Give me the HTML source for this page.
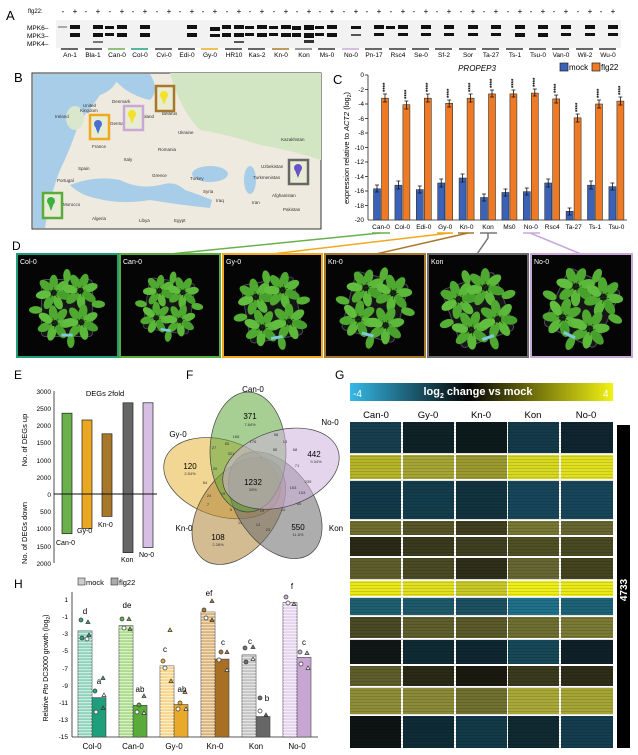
<!DOCTYPE html>
<html><head><meta charset="utf-8"><style>
html,body{margin:0;padding:0;background:#fff}
svg{display:block;font-family:"Liberation Sans",Arial,sans-serif}
</style></head><body>
<svg width="638" height="755" viewBox="0 0 638 755" xmlns="http://www.w3.org/2000/svg">
<defs>
<pattern id="st" width="4" height="3" patternUnits="userSpaceOnUse"><rect width="4" height="1.2" fill="#fff" opacity="0.55"/></pattern>
<pattern id="hl" width="4" height="3" patternUnits="userSpaceOnUse"><rect width="4" height="1" fill="#000" opacity="0.12"/></pattern>
<linearGradient id="cb" x1="0" x2="1" y1="0" y2="0"><stop offset="0" stop-color="#35b8e6"/><stop offset="0.45" stop-color="#050505"/><stop offset="1" stop-color="#f2f213"/></linearGradient>
<g id="ros">
<ellipse cx="0" cy="-11" rx="4.5" ry="8" fill="#4fa830"/>
<ellipse cx="0" cy="-11" rx="4.5" ry="8" fill="#5cb83a" transform="rotate(52)"/>
<ellipse cx="0" cy="-11" rx="4.5" ry="8" fill="#48a02c" transform="rotate(104)"/>
<ellipse cx="0" cy="-11" rx="4.5" ry="8" fill="#5cb83a" transform="rotate(156)"/>
<ellipse cx="0" cy="-11" rx="4.5" ry="8" fill="#4fa830" transform="rotate(208)"/>
<ellipse cx="0" cy="-11" rx="4.5" ry="8" fill="#62be3e" transform="rotate(260)"/>
<ellipse cx="0" cy="-11" rx="4.5" ry="8" fill="#4fa830" transform="rotate(312)"/>
<path d="M0 0L0 -6M0 0L5 -3M0 0L-5 -3M0 0L4 5M0 0L-4 5" stroke="#1c3a12" stroke-width="0.6"/>
</g>
<g id="plant">
<rect x="-27" y="-30" width="54" height="60" rx="4" fill="#161616" stroke="#4a4a5a" stroke-width="1"/>
<use href="#ros" transform="translate(-14,-16)"/>
<use href="#ros" transform="translate(14,-18) rotate(20)"/>
<use href="#ros" transform="translate(-13,16) rotate(40)"/>
<use href="#ros" transform="translate(15,15) rotate(10)"/>
<ellipse cx="0" cy="-34" rx="4" ry="7" fill="#55b035"/>
<ellipse cx="-33" cy="2" rx="7" ry="4" fill="#55b035"/>
<ellipse cx="33" cy="-4" rx="7" ry="4" fill="#55b035"/>
<ellipse cx="4" cy="35" rx="4" ry="7" fill="#4fa830"/>
<rect x="-6" y="27" width="12" height="3" fill="#7fc8d8"/>
</g>
</defs>

<!-- PANEL A -->
<text x="6" y="20" font-size="13">A</text>
<text x="28" y="13" font-size="6">flg22:</text>
<text x="27" y="30" font-size="6.5">MPK6–</text>
<text x="27" y="38" font-size="6.5">MPK3–</text>
<text x="27" y="46" font-size="6.5">MPK4–</text>
<g font-size="8" text-anchor="middle">
<text x="63" y="14">-</text><text x="75" y="14">+</text>
<text x="86" y="14">-</text><text x="98" y="14">+</text>
<text x="110" y="14">-</text><text x="122" y="14">+</text>
<text x="133" y="14">-</text><text x="145" y="14">+</text>
<text x="157" y="14">-</text><text x="169" y="14">+</text>
<text x="180" y="14">-</text><text x="192" y="14">+</text>
<text x="203" y="14">-</text><text x="215" y="14">+</text>
<text x="227" y="14">-</text><text x="239" y="14">+</text>
<text x="250" y="14">-</text><text x="262" y="14">+</text>
<text x="274" y="14">-</text><text x="286" y="14">+</text>
<text x="297" y="14">-</text><text x="309" y="14">+</text>
<text x="320" y="14">-</text><text x="332" y="14">+</text>
<text x="344" y="14">-</text><text x="356" y="14">+</text>
<text x="367" y="14">-</text><text x="379" y="14">+</text>
<text x="391" y="14">-</text><text x="403" y="14">+</text>
<text x="414" y="14">-</text><text x="426" y="14">+</text>
<text x="437" y="14">-</text><text x="449" y="14">+</text>
<text x="461" y="14">-</text><text x="473" y="14">+</text>
<text x="484" y="14">-</text><text x="496" y="14">+</text>
<text x="508" y="14">-</text><text x="520" y="14">+</text>
<text x="531" y="14">-</text><text x="543" y="14">+</text>
<text x="554" y="14">-</text><text x="566" y="14">+</text>
<text x="578" y="14">-</text><text x="590" y="14">+</text>
<text x="601" y="14">-</text><text x="613" y="14">+</text>
</g>
<rect x="56" y="20" width="565" height="28" fill="#f2f2f2"/>
<g fill="#111">
<rect x="70" y="25" width="10" height="4"/><rect x="70" y="33" width="10" height="4"/><rect x="58" y="26" width="9" height="2" fill="#aaa"/>
<rect x="93" y="25" width="10" height="4"/><rect x="93" y="33" width="10" height="4"/><rect x="93" y="41" width="10" height="2" fill="#777"/>
<rect x="105" y="26" width="9" height="3"/><rect x="105" y="33" width="9" height="3"/><rect x="117" y="25" width="10" height="4"/><rect x="117" y="33" width="10" height="4"/>
<rect x="140" y="25" width="10" height="4"/><rect x="140" y="33" width="10" height="4"/>
<rect x="187" y="25" width="10" height="4"/><rect x="187" y="33" width="10" height="4"/>
<rect x="210" y="27" width="10" height="4"/><rect x="210" y="34" width="10" height="3"/>
<rect x="222" y="25" width="9" height="4"/><rect x="222" y="33" width="9" height="4"/><rect x="234" y="25" width="10" height="4"/><rect x="234" y="33" width="10" height="4"/><rect x="234" y="41" width="10" height="2" fill="#555"/>
<rect x="245" y="26" width="9" height="3"/><rect x="245" y="33" width="9" height="3"/><rect x="257" y="25" width="10" height="4"/><rect x="257" y="33" width="10" height="4"/>
<rect x="269" y="26" width="9" height="3"/><rect x="269" y="33" width="9" height="3"/><rect x="281" y="25" width="10" height="4"/><rect x="281" y="33" width="10" height="4"/>
<rect x="292" y="26" width="9" height="4"/><rect x="292" y="33" width="9" height="4"/><rect x="304" y="25" width="10" height="5"/><rect x="304" y="33" width="10" height="5"/><rect x="304" y="40" width="10" height="3" fill="#333"/>
<rect x="315" y="26" width="9" height="3"/><rect x="315" y="33" width="9" height="3"/><rect x="327" y="25" width="10" height="4"/><rect x="327" y="33" width="10" height="4"/>
<rect x="351" y="26" width="10" height="3"/><rect x="351" y="34" width="10" height="2" fill="#555"/>
<rect x="374" y="25" width="10" height="4"/><rect x="374" y="33" width="10" height="3"/>
<rect x="386" y="26" width="9" height="3"/><rect x="398" y="25" width="10" height="4"/><rect x="398" y="33" width="10" height="3"/>
<rect x="421" y="25" width="10" height="4"/><rect x="421" y="33" width="10" height="3"/>
<rect x="444" y="25" width="10" height="4"/><rect x="444" y="33" width="10" height="3"/>
<rect x="468" y="25" width="10" height="4"/><rect x="468" y="33" width="10" height="3"/>
<rect x="491" y="25" width="10" height="4"/><rect x="491" y="33" width="10" height="3"/>
<rect x="515" y="25" width="10" height="4"/><rect x="515" y="33" width="10" height="4"/>
<rect x="538" y="25" width="10" height="4"/><rect x="538" y="33" width="10" height="4"/>
<rect x="561" y="25" width="10" height="4"/><rect x="561" y="33" width="10" height="3"/>
<rect x="585" y="25" width="10" height="4"/><rect x="585" y="33" width="10" height="3"/>
<rect x="608" y="25" width="10" height="4"/><rect x="608" y="33" width="10" height="3"/>
</g>
<g stroke-width="1.5">
<line x1="61" y1="49" x2="78" y2="49" stroke="#333"/><line x1="85" y1="49" x2="102" y2="49" stroke="#333"/>
<line x1="108" y1="49" x2="125" y2="49" stroke="#6ab04c"/><line x1="131" y1="49" x2="148" y2="49" stroke="#1f9e7a"/>
<line x1="155" y1="49" x2="172" y2="49" stroke="#333"/><line x1="178" y1="49" x2="195" y2="49" stroke="#333"/>
<line x1="201" y1="49" x2="218" y2="49" stroke="#f0a81e"/><line x1="225" y1="49" x2="242" y2="49" stroke="#333"/>
<line x1="248" y1="49" x2="265" y2="49" stroke="#333"/><line x1="272" y1="49" x2="289" y2="49" stroke="#a8782a"/>
<line x1="295" y1="49" x2="312" y2="49" stroke="#777"/><line x1="318" y1="49" x2="335" y2="49" stroke="#333"/>
<line x1="342" y1="49" x2="359" y2="49" stroke="#c9a8d8"/><line x1="365" y1="49" x2="382" y2="49" stroke="#333"/>
<line x1="389" y1="49" x2="406" y2="49" stroke="#333"/><line x1="412" y1="49" x2="429" y2="49" stroke="#333"/>
<line x1="435" y1="49" x2="452" y2="49" stroke="#333"/><line x1="459" y1="49" x2="476" y2="49" stroke="#333"/>
<line x1="482" y1="49" x2="499" y2="49" stroke="#333"/><line x1="506" y1="49" x2="523" y2="49" stroke="#333"/>
<line x1="529" y1="49" x2="546" y2="49" stroke="#333"/><line x1="552" y1="49" x2="569" y2="49" stroke="#333"/>
<line x1="576" y1="49" x2="593" y2="49" stroke="#333"/><line x1="599" y1="49" x2="616" y2="49" stroke="#333"/>
</g>
<g font-size="6.5" text-anchor="middle">
<text x="70" y="57">An-1</text><text x="93" y="57">Bla-1</text><text x="117" y="57">Can-0</text><text x="140" y="57">Col-0</text>
<text x="164" y="57">Cvi-0</text><text x="187" y="57">Edi-0</text><text x="210" y="57">Gy-0</text><text x="234" y="57">HR10</text>
<text x="257" y="57">Kas-2</text><text x="281" y="57">Kn-0</text><text x="304" y="57">Kon</text><text x="327" y="57">Ms-0</text>
<text x="351" y="57">No-0</text><text x="374" y="57">Pn-17</text><text x="398" y="57">Rsc4</text><text x="421" y="57">Se-0</text>
<text x="444" y="57">Sf-2</text><text x="468" y="57">Sor</text><text x="491" y="57">Ta-27</text><text x="515" y="57">Ts-1</text>
<text x="538" y="57">Tsu-0</text><text x="561" y="57">Van-0</text><text x="585" y="57">Wil-2</text><text x="608" y="57">Wu-0</text>
</g>

<!-- PANEL B map -->
<text x="14" y="82" font-size="13">B</text>
<rect x="32" y="73" width="289" height="156" fill="#efeadf" stroke="#333" stroke-width="1"/>
<path d="M170 73 L321 73 L321 160 Q290 150 260 145 Q230 135 200 130 Q180 110 170 73 Z" fill="#d3e6c4"/>
<path d="M33 74 L120 74 Q115 90 100 95 Q90 110 80 120 Q70 150 60 170 Q50 195 45 228 L33 228 Z" fill="#a8cde9"/>
<path d="M110 74 Q125 95 150 100 Q160 90 150 74 Z" fill="#a8cde9"/>
<path d="M70 185 Q95 175 120 180 Q140 190 160 185 Q175 180 185 190 Q200 195 212 200 L210 208 Q180 205 150 200 Q120 205 95 198 Q80 195 70 185 Z" fill="#a8cde9"/>
<ellipse cx="210" cy="174" rx="18" ry="8" fill="#a8cde9"/>
<ellipse cx="250" cy="180" rx="6" ry="14" fill="#a8cde9"/>
<ellipse cx="75" cy="118" rx="9" ry="12" fill="#d9e8cc"/>
<g font-size="4.5" fill="#333">
<text x="55" y="118">Ireland</text><text x="83" y="107">United</text><text x="80" y="112">Kingdom</text>
<text x="112" y="103">Denmark</text><text x="110" y="125">Germany</text><text x="140" y="118">Poland</text>
<text x="162" y="115">Belarus</text><text x="178" y="134">Ukraine</text><text x="92" y="148">France</text>
<text x="158" y="151">Romania</text><text x="124" y="161">Italy</text><text x="78" y="170">Spain</text>
<text x="57" y="182">Portugal</text><text x="152" y="177">Greece</text><text x="190" y="180">Turkey</text>
<text x="281" y="141">Kazakhstan</text><text x="261" y="168">Uzbekistan</text><text x="253" y="179">Turkmenistan</text>
<text x="63" y="206">Morocco</text><text x="92" y="220">Algeria</text><text x="139" y="222">Libya</text>
<text x="174" y="222">Egypt</text><text x="216" y="202">Iraq</text><text x="252" y="204">Iran</text>
<text x="272" y="197">Afghanistan</text><text x="283" y="211">Pakistan</text><text x="203" y="193">Syria</text>
</g>
<g fill="none" stroke-width="2.5">
<rect x="90" y="115" width="19" height="24" stroke="#f0a81e" fill="#e9ecd5"/>
<rect x="124" y="106" width="19" height="24" stroke="#c9a8d8" fill="#e9ecd5"/>
<rect x="156" y="86" width="18" height="25" stroke="#a8782a" fill="#e9ecd5"/>
<rect x="289" y="160" width="19" height="24" stroke="#666" fill="#e9ecd5"/>
<rect x="43" y="193" width="19" height="25" stroke="#5aaa3c" fill="#e9ecd5"/>
</g>
<circle cx="98" cy="124" r="4" fill="#4a6fd0"/><path d="M95 126 L98 134 L101 126Z" fill="#4a6fd0"/>
<circle cx="132" cy="114" r="4" fill="#f2e22a"/><path d="M129 116 L132 124 L135 116Z" fill="#f2e22a"/>
<circle cx="164" cy="95" r="4" fill="#f2e22a"/><path d="M161 97 L164 105 L167 97Z" fill="#f2e22a"/>
<circle cx="298" cy="168" r="4" fill="#6a52c8"/><path d="M295 170 L298 178 L301 170Z" fill="#6a52c8"/>
<circle cx="51" cy="201" r="4" fill="#3cb043"/><path d="M48 203 L51 211 L54 203Z" fill="#3cb043"/>

<!-- PANEL C -->
<text x="333" y="84" font-size="13">C</text>
<text x="477" y="71" font-size="8" font-style="italic" text-anchor="middle">PROPEP3</text>
<rect x="560" y="63" width="8" height="8" fill="#3b62b7" stroke="#222" stroke-width="0.7"/><text x="569" y="70" font-size="8">mock</text>
<rect x="592" y="63" width="8" height="8" fill="#ef7a26" stroke="#222" stroke-width="0.7"/><text x="601" y="70" font-size="8">flg22</text>
<text transform="translate(349,148) rotate(-90)" font-size="7.5" text-anchor="middle">expression relative to <tspan font-style="italic">ACT2</tspan> (log<tspan font-size="5" dy="2">2</tspan><tspan dy="-2">)</tspan></text>
<g font-size="6.5" text-anchor="end">
<text x="364" y="77">0</text><text x="364" y="92">-2</text><text x="364" y="106">-4</text><text x="364" y="121">-6</text>
<text x="364" y="135">-8</text><text x="364" y="150">-10</text><text x="364" y="164">-12</text><text x="364" y="179">-14</text>
<text x="364" y="193">-16</text><text x="364" y="208">-18</text><text x="364" y="222">-20</text>
</g>
<g stroke="#222" stroke-width="0.8">
<line x1="368" y1="75" x2="368" y2="220"/><line x1="368" y1="220" x2="627" y2="220"/>
<line x1="365" y1="75" x2="368" y2="75"/><line x1="365" y1="89.5" x2="368" y2="89.5"/><line x1="365" y1="104" x2="368" y2="104"/><line x1="365" y1="118.5" x2="368" y2="118.5"/><line x1="365" y1="133" x2="368" y2="133"/><line x1="365" y1="147.5" x2="368" y2="147.5"/><line x1="365" y1="162" x2="368" y2="162"/><line x1="365" y1="176.5" x2="368" y2="176.5"/><line x1="365" y1="191" x2="368" y2="191"/><line x1="365" y1="205.5" x2="368" y2="205.5"/>
</g>
<g stroke="#333" stroke-width="0.6">
<rect x="373.5" y="188.8" width="7" height="31.2" fill="#3b62b7"/><rect x="381.5" y="98.2" width="7" height="121.8" fill="#ef7a26"/>
<rect x="394.9" y="185.2" width="7" height="34.8" fill="#3b62b7"/><rect x="402.9" y="104.7" width="7" height="115.3" fill="#ef7a26"/>
<rect x="416.3" y="189.6" width="7" height="30.4" fill="#3b62b7"/><rect x="424.3" y="98.2" width="7" height="121.8" fill="#ef7a26"/>
<rect x="437.7" y="183" width="7" height="37" fill="#3b62b7"/><rect x="445.7" y="103.3" width="7" height="116.7" fill="#ef7a26"/>
<rect x="459.1" y="178" width="7" height="42" fill="#3b62b7"/><rect x="467.1" y="98.2" width="7" height="121.8" fill="#ef7a26"/>
<rect x="480.5" y="197.5" width="7" height="22.5" fill="#3b62b7"/><rect x="488.5" y="93.9" width="7" height="126.1" fill="#ef7a26"/>
<rect x="501.9" y="192.5" width="7" height="27.5" fill="#3b62b7"/><rect x="509.9" y="93.9" width="7" height="126.1" fill="#ef7a26"/>
<rect x="523.3" y="191.7" width="7" height="28.3" fill="#3b62b7"/><rect x="531.3" y="93.1" width="7" height="126.9" fill="#ef7a26"/>
<rect x="544.7" y="183" width="7" height="37" fill="#3b62b7"/><rect x="552.7" y="98.9" width="7" height="121.1" fill="#ef7a26"/>
<rect x="566.1" y="211.3" width="7" height="8.7" fill="#3b62b7"/><rect x="574.1" y="117.8" width="7" height="102.2" fill="#ef7a26"/>
<rect x="587.5" y="185.2" width="7" height="34.8" fill="#3b62b7"/><rect x="595.5" y="104" width="7" height="116" fill="#ef7a26"/>
<rect x="608.9" y="186.7" width="7" height="33.3" fill="#3b62b7"/><rect x="616.9" y="101.1" width="7" height="118.9" fill="#ef7a26"/>
</g>
<g stroke="#111" stroke-width="0.8">
<path d="M377 185v7M375 185h4M375 192h4M385 94v8M383 94h4M383 102h4"/>
<path d="M398.4 181v8M396.4 181h4M396.4 189h4M406.4 101v8M404.4 101h4M404.4 109h4"/>
<path d="M419.8 186v7M417.8 186h4M417.8 193h4M427.8 94v8M425.8 94h4M425.8 102h4"/>
<path d="M441.2 179v8M439.2 179h4M439.2 187h4M449.2 100v7M447.2 100h4M447.2 107h4"/>
<path d="M462.6 174v8M460.6 174h4M460.6 182h4M470.6 94v8M468.6 94h4M468.6 102h4"/>
<path d="M484 194v7M482 194h4M482 201h4M492 90v7M490 90h4M490 97h4"/>
<path d="M505.4 189v7M503.4 189h4M503.4 196h4M513.4 90v7M511.4 90h4M511.4 97h4"/>
<path d="M526.8 188v7M524.8 188h4M524.8 195h4M534.8 89v7M532.8 89h4M532.8 96h4"/>
<path d="M548.2 179v8M546.2 179h4M546.2 187h4M556.2 95v8M554.2 95h4M554.2 103h4"/>
<path d="M569.6 208v7M567.6 208h4M567.6 215h4M577.6 114v8M575.6 114h4M575.6 122h4"/>
<path d="M591 181v8M589 181h4M589 189h4M599 100v8M597 100h4M597 108h4"/>
<path d="M612.4 183v7M610.4 183h4M610.4 190h4M620.4 97v8M618.4 97h4M618.4 105h4"/>
</g>
<g font-size="6" font-weight="bold">
<text transform="translate(387,92) rotate(-90)">****</text><text transform="translate(408.4,99) rotate(-90)">****</text>
<text transform="translate(429.8,92) rotate(-90)">****</text><text transform="translate(451.2,98) rotate(-90)">****</text>
<text transform="translate(472.6,92) rotate(-90)">****</text><text transform="translate(494,88) rotate(-90)">****</text>
<text transform="translate(515.4,88) rotate(-90)">****</text><text transform="translate(536.8,87) rotate(-90)">****</text>
<text transform="translate(558.2,93) rotate(-90)">****</text><text transform="translate(579.6,112) rotate(-90)">****</text>
<text transform="translate(601,98) rotate(-90)">****</text><text transform="translate(622.4,95) rotate(-90)">****</text>
</g>
<g font-size="6.5" text-anchor="middle">
<text x="381" y="229">Can-0</text><text x="402.4" y="229">Col-0</text><text x="423.8" y="229">Edi-0</text><text x="445.2" y="229">Gy-0</text>
<text x="466.6" y="229">Kn-0</text><text x="488" y="229">Kon</text><text x="509.4" y="229">Ms0</text><text x="530.8" y="229">No-0</text>
<text x="552.2" y="229">Rsc4</text><text x="573.6" y="229">Ta-27</text><text x="595" y="229">Ts-1</text><text x="616.4" y="229">Tsu-0</text>
</g>
<g stroke-width="1.5" fill="none">
<line x1="372" y1="233" x2="390" y2="233" stroke="#6ab04c"/><polyline points="380,233 170,254" stroke="#6ab04c"/>
<line x1="437" y1="233" x2="453" y2="233" stroke="#f0a81e"/><polyline points="450,233 272,254" stroke="#f0a81e"/>
<line x1="458" y1="233" x2="474" y2="233" stroke="#a8782a"/><polyline points="468,233 376,254" stroke="#a8782a"/>
<line x1="480" y1="233" x2="497" y2="233" stroke="#777"/><polyline points="488,233 488,238 477,254" stroke="#777"/>
<line x1="523" y1="233" x2="540" y2="233" stroke="#c9a8d8"/><polyline points="530,233 581,254" stroke="#c9a8d8"/>
</g>

<!-- PANEL D -->
<text x="12" y="250" font-size="12">D</text>
<g stroke-width="2">
<rect x="17" y="254" width="101" height="103" fill="#050505" stroke="#1f9e7a"/>
<rect x="120" y="254" width="100" height="103" fill="#050505" stroke="#5aaa3c"/>
<rect x="223" y="254" width="99" height="103" fill="#050505" stroke="#f0a81e"/>
<rect x="325" y="254" width="100" height="103" fill="#050505" stroke="#a8782a"/>
<rect x="428" y="254" width="100" height="103" fill="#050505" stroke="#6a6a6a"/>
<rect x="531" y="254" width="101" height="103" fill="#050505" stroke="#c9a8d8"/>
</g>
<use href="#plant" transform="translate(67,308) scale(0.95)"/>
<use href="#plant" transform="translate(169,306) rotate(8) scale(0.85)"/>
<use href="#plant" transform="translate(272,310) rotate(-10) scale(0.98)"/>
<use href="#plant" transform="translate(375,307) rotate(15) scale(1.0)"/>
<use href="#plant" transform="translate(478,310) rotate(-20) scale(1.03)"/>
<use href="#plant" transform="translate(582,308) rotate(25) scale(1.05)"/>
<g font-size="7" fill="#fff">
<text x="20" y="264">Col-0</text><text x="123" y="264">Can-0</text><text x="226" y="264">Gy-0</text>
<text x="328" y="264">Kn-0</text><text x="431" y="264">Kon</text><text x="534" y="264">No-0</text>
</g>

<!-- PANEL E -->
<text x="14" y="379" font-size="12">E</text>
<text x="105" y="396" font-size="7.5" text-anchor="middle">DEGs 2fold</text>
<g font-size="6.5" text-anchor="end">
<text x="51" y="394">3000</text><text x="51" y="411">2500</text><text x="51" y="428">2000</text><text x="51" y="445">1500</text>
<text x="51" y="463">1000</text><text x="51" y="480">2000</text><text x="51" y="497">0</text><text x="51" y="514">500</text>
<text x="51" y="531">1000</text><text x="51" y="549">1500</text><text x="51" y="566">2000</text>
</g>
<text transform="translate(27,440) rotate(-90)" font-size="7.5" text-anchor="middle">No. of DEGs up</text>
<text transform="translate(27,533) rotate(-90)" font-size="7.5" text-anchor="middle">No. of DEGs down</text>
<line x1="54" y1="391" x2="54" y2="563" stroke="#222" stroke-width="0.8"/>
<g stroke="#222" stroke-width="0.7">
<rect x="62" y="413.2" width="10" height="120.5" fill="#6ab04c"/>
<rect x="82" y="420" width="10" height="108.5" fill="#eaa722"/>
<rect x="102" y="433.8" width="10" height="82.6" fill="#a8782a"/>
<rect x="123" y="402.8" width="10" height="149.8" fill="#666"/>
<rect x="143" y="402.8" width="10" height="144.7" fill="#d6bfe2"/>
</g>
<line x1="54" y1="494" x2="157" y2="494" stroke="#111" stroke-width="1"/>
<g font-size="7">
<text x="56" y="545">Can-0</text><text x="77" y="533">Gy-0</text><text x="98" y="527">Kn-0</text>
<text x="121" y="562">Kon</text><text x="139" y="557">No-0</text>
</g>

<!-- PANEL F -->
<text x="186" y="379" font-size="12">F</text>
<g stroke="#444" stroke-width="0.7" fill-opacity="0.55">
<ellipse cx="248" cy="452" rx="38" ry="60" fill="#e8b53a" transform="rotate(-72,253,483)"/>
<ellipse cx="248" cy="452" rx="38" ry="60" fill="#b08538" transform="rotate(-144,253,483)"/>
<ellipse cx="248" cy="452" rx="38" ry="60" fill="#6a6a6a" transform="rotate(144,253,483)"/>
<ellipse cx="248" cy="452" rx="38" ry="60" fill="#5fa83a"/>
<ellipse cx="248" cy="452" rx="38" ry="60" fill="#cfb2dc" transform="rotate(72,253,483)"/>
</g>
<g font-size="8" text-anchor="middle">
<text x="253" y="392">Can-0</text><text x="178" y="437">Gy-0</text><text x="330" y="425">No-0</text>
<text x="184" y="531">Kn-0</text><text x="336" y="531">Kon</text>
<text x="250" y="419">371</text><text x="190" y="469">120</text><text x="314" y="457">442</text>
<text x="253" y="485" font-size="8">1232</text><text x="218" y="540">108</text><text x="298" y="530">550</text>
</g>
<g font-size="4" text-anchor="middle" fill="#333">
<text x="250" y="426">7.84%</text><text x="190" y="475">2.54%</text><text x="316" y="463">9.34%</text>
<text x="253" y="491">26%</text><text x="218" y="546">2.28%</text><text x="298" y="536">11.6%</text>
<text x="214" y="449">27</text><text x="227" y="445">65</text><text x="236" y="438">168</text><text x="276" y="436">98</text>
<text x="253" y="443">176</text><text x="285" y="443">13</text><text x="275" y="451">55</text><text x="295" y="451">68</text>
<text x="231" y="455">321</text><text x="215" y="470">20</text><text x="297" y="467">71</text><text x="205" y="484">54</text>
<text x="293" y="489">163</text><text x="308" y="483">239</text><text x="302" y="494">153</text><text x="223" y="495">19</text>
<text x="209" y="497">24</text><text x="208" y="506">7</text><text x="231" y="511">5</text><text x="262" y="512">19</text>
<text x="283" y="511">14</text><text x="299" y="505">60</text><text x="240" y="524">11</text><text x="258" y="526">13</text><text x="268" y="531">23</text>
</g>

<!-- PANEL G -->
<text x="335" y="379" font-size="12">G</text>
<rect x="350" y="383" width="263" height="18" fill="url(#cb)"/>
<text x="353" y="397" font-size="10" fill="#fff">-4</text>
<text x="478" y="395" font-size="11" fill="#fff" font-weight="bold" text-anchor="middle">log<tspan font-size="7" dy="3">2</tspan><tspan dy="-3"> change vs mock</tspan></text>
<text x="603" y="397" font-size="10" fill="#fff">4</text>
<g font-size="9.5" text-anchor="middle">
<text x="376" y="418">Can-0</text><text x="428" y="418">Gy-0</text><text x="481" y="418">Kn-0</text><text x="533" y="418">Kon</text><text x="586" y="418">No-0</text>
</g>
<g>
<rect x="350" y="422" width="51" height="31" fill="#173f4f"/><rect x="403" y="422" width="51" height="31" fill="#0f2228"/><rect x="456" y="422" width="51" height="31" fill="#0c1a1c"/><rect x="508" y="422" width="51" height="31" fill="#143a4a"/><rect x="561" y="422" width="52" height="31" fill="#0f2530"/>
<rect x="350" y="455" width="51" height="24" fill="#b5b52a"/><rect x="403" y="455" width="51" height="24" fill="#a5a535"/><rect x="456" y="455" width="51" height="24" fill="#9a9a30"/><rect x="508" y="455" width="51" height="24" fill="#d8d820"/><rect x="561" y="455" width="52" height="24" fill="#e0e020"/>
<rect x="350" y="481" width="51" height="38" fill="#123a4a"/><rect x="403" y="481" width="51" height="38" fill="#133d4d"/><rect x="456" y="481" width="51" height="38" fill="#12323d"/><rect x="508" y="481" width="51" height="38" fill="#17465a"/><rect x="561" y="481" width="52" height="38" fill="#17465a"/>
<rect x="350" y="521" width="51" height="14" fill="#6e6e30"/><rect x="403" y="521" width="51" height="14" fill="#555528"/><rect x="456" y="521" width="51" height="14" fill="#3f3f20"/><rect x="508" y="521" width="51" height="14" fill="#787835"/><rect x="561" y="521" width="52" height="14" fill="#666630"/>
<rect x="350" y="537" width="51" height="19" fill="#2a2a18"/><rect x="403" y="537" width="51" height="19" fill="#3a3a1e"/><rect x="456" y="537" width="51" height="19" fill="#3f3f22"/><rect x="508" y="537" width="51" height="19" fill="#505025"/><rect x="561" y="537" width="52" height="19" fill="#4a4a22"/>
<rect x="350" y="558" width="51" height="21" fill="#5e5e2c"/><rect x="403" y="558" width="51" height="21" fill="#4a4a24"/><rect x="456" y="558" width="51" height="21" fill="#2f2f1a"/><rect x="508" y="558" width="51" height="21" fill="#666633"/><rect x="561" y="558" width="52" height="21" fill="#44441f"/>
<rect x="350" y="581" width="51" height="15" fill="#e8e81a"/><rect x="403" y="581" width="51" height="15" fill="#e0e020"/><rect x="456" y="581" width="51" height="15" fill="#c8c828"/><rect x="508" y="581" width="51" height="15" fill="#eeee18"/><rect x="561" y="581" width="52" height="15" fill="#eaea18"/>
<rect x="350" y="598" width="51" height="17" fill="#1e6070"/><rect x="403" y="598" width="51" height="17" fill="#1f5a6a"/><rect x="456" y="598" width="51" height="17" fill="#1d5060"/><rect x="508" y="598" width="51" height="17" fill="#1f7088"/><rect x="561" y="598" width="52" height="17" fill="#1e6278"/>
<rect x="350" y="617" width="51" height="21" fill="#4a4a25"/><rect x="403" y="617" width="51" height="21" fill="#5e5e2e"/><rect x="456" y="617" width="51" height="21" fill="#5a5a2a"/><rect x="508" y="617" width="51" height="21" fill="#6e6e32"/><rect x="561" y="617" width="52" height="21" fill="#7a7a35"/>
<rect x="350" y="640" width="51" height="24" fill="#111616"/><rect x="403" y="640" width="51" height="24" fill="#0f2a33"/><rect x="456" y="640" width="51" height="24" fill="#0e2730"/><rect x="508" y="640" width="51" height="24" fill="#164858"/><rect x="561" y="640" width="52" height="24" fill="#0f2028"/>
<rect x="350" y="666" width="51" height="20" fill="#5e5e2a"/><rect x="403" y="666" width="51" height="20" fill="#2a2a16"/><rect x="456" y="666" width="51" height="20" fill="#1a1a10"/><rect x="508" y="666" width="51" height="20" fill="#3a3a1c"/><rect x="561" y="666" width="52" height="20" fill="#2e2e18"/>
<rect x="350" y="688" width="51" height="26" fill="#8e8e38"/><rect x="403" y="688" width="51" height="26" fill="#8a8a38"/><rect x="456" y="688" width="51" height="26" fill="#707030"/><rect x="508" y="688" width="51" height="26" fill="#a8a838"/><rect x="561" y="688" width="52" height="26" fill="#a5a535"/>
<rect x="350" y="716" width="51" height="32" fill="#0e1414"/><rect x="403" y="716" width="51" height="32" fill="#0f2c36"/><rect x="456" y="716" width="51" height="32" fill="#123a48"/><rect x="508" y="716" width="51" height="32" fill="#102a32"/><rect x="561" y="716" width="52" height="32" fill="#143e4e"/>
</g>
<rect x="350" y="422" width="263" height="326" fill="url(#hl)"/>
<rect x="617" y="425" width="13" height="323" fill="#000"/>
<text transform="translate(627,590) rotate(-90)" font-size="10" font-weight="bold" fill="#fff" text-anchor="middle">4733</text>

<!-- PANEL H -->
<text x="14" y="588" font-size="12">H</text>
<rect x="78" y="578" width="7" height="7" fill="#ccc" stroke="#333" stroke-width="0.6"/><text x="86" y="585" font-size="7.5">mock</text>
<rect x="111" y="578" width="7" height="7" fill="#aaa" stroke="#333" stroke-width="0.6"/><text x="119" y="585" font-size="7.5">flg22</text>
<text transform="translate(48,668) rotate(-90)" font-size="7" text-anchor="middle">Relative <tspan font-style="italic">Pto</tspan> DC3000 growth (log<tspan font-size="5" dy="2">2</tspan><tspan dy="-2">)</tspan></text>
<g font-size="6.5" text-anchor="end">
<text x="68" y="602">1</text><text x="68" y="619">-1</text><text x="68" y="636">-3</text><text x="68" y="653">-5</text>
<text x="68" y="671">-7</text><text x="68" y="688">-9</text><text x="68" y="705">-11</text><text x="68" y="722">-13</text><text x="68" y="739">-15</text>
</g>
<g stroke="#222" stroke-width="0.8"><line x1="72" y1="592" x2="72" y2="737"/><line x1="72" y1="737" x2="318" y2="737"/></g>
<g stroke="#444" stroke-width="0.6">
<rect x="78" y="630.8" width="14" height="106.2" fill="#8fd3bd"/><rect x="92" y="697.6" width="14" height="39.4" fill="#1e9e7a"/>
<rect x="119" y="625.7" width="14" height="111.3" fill="#addb8c"/><rect x="133" y="705.3" width="14" height="31.7" fill="#5aaa3c"/>
<rect x="160" y="665.9" width="14" height="71.1" fill="#f7d58a"/><rect x="174" y="704.5" width="14" height="32.5" fill="#e9a92a"/>
<rect x="201" y="612" width="14" height="125" fill="#dab47a"/><rect x="215" y="659.1" width="14" height="77.9" fill="#a86f25"/>
<rect x="242" y="654.8" width="14" height="82.2" fill="#c4c4c4"/><rect x="256" y="716.5" width="14" height="20.5" fill="#666"/>
<rect x="283" y="602.6" width="14" height="134.4" fill="#e6d4ee"/><rect x="297" y="657.4" width="14" height="79.6" fill="#c7a6d3"/>
</g>
<g fill="url(#st)">
<rect x="78" y="630.8" width="14" height="106.2"/><rect x="119" y="625.7" width="14" height="111.3"/><rect x="160" y="665.9" width="14" height="71.1"/>
<rect x="201" y="612" width="14" height="125"/><rect x="242" y="654.8" width="14" height="82.2"/><rect x="283" y="602.6" width="14" height="134.4"/>
</g>
<g stroke="#333" stroke-width="0.7" fill-opacity="0.9">
<circle cx="81" cy="620" r="2" fill="#1e9e7a"/><circle cx="82" cy="638" r="2" fill="#1e9e7a"/><circle cx="87" cy="639" r="2" fill="#fff"/><path d="M88 620l2 3.5h-4z" fill="#1e9e7a"/><path d="M89 633l2 3.5h-4z" fill="#1e9e7a"/>
<circle cx="95" cy="691" r="2" fill="#1e9e7a"/><circle cx="96" cy="712" r="2" fill="#fff"/><path d="M103 676l2 3.5h-4z" fill="#1e9e7a"/><path d="M104 693l2 3.5h-4z" fill="#fff"/><path d="M103 706l2 3.5h-4z" fill="#1e9e7a"/>
<circle cx="122" cy="619" r="2" fill="#5aaa3c"/><circle cx="124" cy="628" r="2" fill="#fff"/><path d="M129 617l2 3.5h-4z" fill="#5aaa3c"/><path d="M130 627l2 3.5h-4z" fill="#5aaa3c"/>
<circle cx="137" cy="712" r="2" fill="#fff"/><circle cx="139" cy="705" r="2" fill="#5aaa3c"/><path d="M144 694l2 3.5h-4z" fill="#5aaa3c"/><path d="M144 711l2 3.5h-4z" fill="#fff"/>
<circle cx="163" cy="661" r="2" fill="#e9a92a"/><circle cx="165" cy="668" r="2" fill="#fff"/><path d="M170 628l2 3.5h-4z" fill="#e9a92a"/><path d="M171 679l2 3.5h-4z" fill="#e9a92a"/>
<circle cx="178" cy="709" r="2" fill="#fff"/><circle cx="180" cy="703" r="2" fill="#e9a92a"/><path d="M185 690l2 3.5h-4z" fill="#e9a92a"/><path d="M186 707l2 3.5h-4z" fill="#fff"/>
<circle cx="204" cy="610" r="2" fill="#a86f25"/><circle cx="206" cy="618" r="2" fill="#fff"/><path d="M212 599l2 3.5h-4z" fill="#a86f25"/><path d="M212 618l2 3.5h-4z" fill="#a86f25"/>
<circle cx="219" cy="660" r="2" fill="#fff"/><circle cx="221" cy="652" r="2" fill="#a86f25"/><path d="M227 650l2 3.5h-4z" fill="#a86f25"/><path d="M227 668l2 3.5h-4z" fill="#fff"/>
<circle cx="245" cy="648" r="2" fill="#666"/><circle cx="246" cy="662" r="2" fill="#666"/><path d="M253 645l2 3.5h-4z" fill="#666"/><path d="M253 657l2 3.5h-4z" fill="#fff"/>
<circle cx="260" cy="698" r="2" fill="#666"/><circle cx="260" cy="711" r="2" fill="#fff"/><path d="M266 713l2 3.5h-4z" fill="#555"/>
<circle cx="286" cy="597" r="2" fill="#c7a6d3"/><circle cx="288" cy="603" r="2" fill="#fff"/><path d="M294 602l2 3.5h-4z" fill="#c7a6d3"/>
<circle cx="300" cy="652" r="2" fill="#c7a6d3"/><circle cx="301" cy="664" r="2" fill="#fff"/><path d="M307 651l2 3.5h-4z" fill="#c7a6d3"/><path d="M308 666l2 3.5h-4z" fill="#fff"/>
</g>
<g font-size="8" text-anchor="middle">
<text x="85" y="614">d</text><text x="127" y="608">de</text><text x="165" y="652">c</text><text x="209" y="596">ef</text><text x="250" y="644">c</text><text x="292" y="589">f</text>
<text x="99" y="684">a</text><text x="140" y="692">ab</text><text x="182" y="692">ab</text><text x="223" y="645">c</text><text x="267" y="701">b</text><text x="304" y="645">c</text>
</g>
<g font-size="8" text-anchor="middle">
<text x="92" y="749">Col-0</text><text x="133" y="749">Can-0</text><text x="174" y="749">Gy-0</text><text x="215" y="749">Kn-0</text><text x="256" y="749">Kon</text><text x="297" y="749">No-0</text>
</g>
</svg>
</body></html>
